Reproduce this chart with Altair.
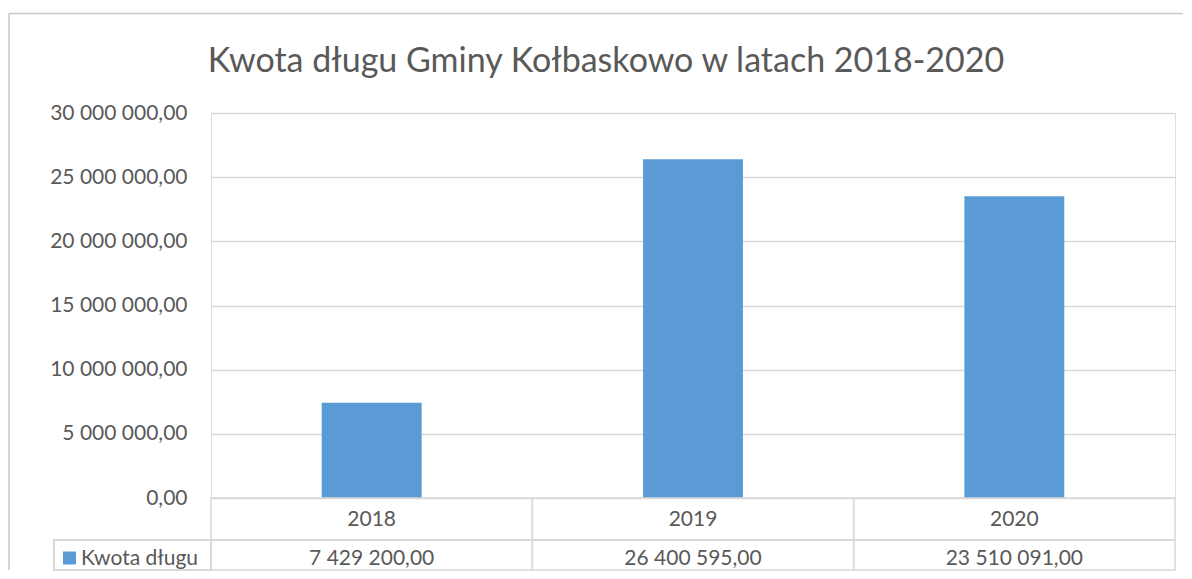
import altair as alt
import pandas as pd

# ---- data ----
years = ["2018", "2019", "2020"]
values = [7429200.00, 26400595.00, 23510091.00]
series_name = "Kwota długu"
title_text = "Kwota długu Gminy Kołbaskowo w latach 2018-2020"
y_ticks = [0, 5000000, 10000000, 15000000, 20000000, 25000000, 30000000]


def pl_fmt(v):
    s = f"{v:,.2f}"
    return s.replace(",", " ").replace(".", ",")


df = pd.DataFrame({"year": years, "value": values})
df["label"] = [pl_fmt(v) for v in values]

# ---- layout / style ----
W, H = 964, 385
PAD_R, PAD_B = 9, 73
ROW1, ROW2 = 42, 30
ROW2_MID = 19
LEFT_CELL = 157
FONT = "Lato"
TXT = "#595959"
GRID = "#d9d9d9"
FRAME = "#c8c8c8"
BLUE = "#5B9BD5"
P_IN = 0.689
STEP = W / len(years)
FS = 21

xs = alt.X("year:N", sort=years,
           scale=alt.Scale(paddingInner=P_IN, paddingOuter=P_IN / 2),
           axis=None)

base = alt.Chart(df)

bars = base.mark_bar(color=BLUE).encode(
    x=xs,
    y=alt.Y("value:Q",
            scale=alt.Scale(domain=[0, 30000000], nice=False),
            axis=alt.Axis(values=y_ticks, title=None, domain=False, ticks=False,
                          grid=True, gridColor=GRID, gridWidth=1.5,
                          labelFont=FONT, labelFontSize=FS, labelColor=TXT,
                          labelPadding=24,
                          labelExpr="replace(replace(format(datum.value, ',.2f'), /,/g, ' '), '.', ',')")),
)

# table cells (one per year, two rows)
cells = base.mark_rect(width=STEP, fillOpacity=0, stroke=GRID, strokeWidth=1.5).encode(
    x=xs,
    y=alt.value(H),
    y2=alt.value(H + ROW1 + ROW2),
)
row_div = base.mark_rule(color=GRID, strokeWidth=1.5).encode(
    x=alt.value(-LEFT_CELL), x2=alt.value(W), y=alt.value(H + ROW1)
)
left_cell = base.mark_rect(fillOpacity=0, stroke=GRID, strokeWidth=1.5).encode(
    x=alt.value(-LEFT_CELL), x2=alt.value(0),
    y=alt.value(H + ROW1), y2=alt.value(H + ROW1 + ROW2)
)

year_text = base.mark_text(font=FONT, fontSize=FS, color=TXT, baseline="middle").encode(
    x=xs, y=alt.value(H + ROW1 / 2 + 1), text="year:N"
)
val_text = base.mark_text(font=FONT, fontSize=FS, color=TXT, baseline="middle").encode(
    x=xs, y=alt.value(H + ROW1 + ROW2_MID), text="label:N"
)

leg_df = pd.DataFrame({"name": [series_name]})
leg_sq = alt.Chart(leg_df).mark_square(color=BLUE, size=169, opacity=1, filled=True).encode(
    x=alt.value(-141.5), y=alt.value(H + ROW1 + ROW2_MID - 1)
)
leg_txt = alt.Chart(leg_df).mark_text(font=FONT, fontSize=FS, color=TXT,
                                      align="left", baseline="middle").encode(
    x=alt.value(-130), y=alt.value(H + ROW1 + ROW2_MID), text="name:N"
)

title_df = pd.DataFrame({"t": [title_text]})
title = alt.Chart(title_df).mark_text(font=FONT, fontSize=34, color=TXT,
                                      align="center", baseline="middle").encode(
    x=alt.value(395), y=alt.value(-51), text="t:N"
)

# outer chart frame: top and left edges, kept inside the drawing
frame_top = alt.Chart(title_df).mark_rule(color=FRAME, strokeWidth=1.5).encode(
    x=alt.value(-202), x2=alt.value(W + PAD_R - 1), y=alt.value(-99.5)
)
frame_left = alt.Chart(title_df).mark_rule(color=FRAME, strokeWidth=1.5).encode(
    x=alt.value(-202), y=alt.value(-99.5), y2=alt.value(H + PAD_B - 1)
)

chart = alt.layer(frame_top, frame_left, bars, cells, row_div, left_cell,
                  year_text, val_text, leg_sq, leg_txt, title).properties(
    width=W, height=H,
    autosize=alt.AutoSizeParams(type="none"),
    padding={"left": 203, "top": 105, "right": PAD_R, "bottom": PAD_B},
).configure_view(stroke=None).configure(background="white")

chart.save("out.html", embed_options={"renderer": "svg", "actions": False})
